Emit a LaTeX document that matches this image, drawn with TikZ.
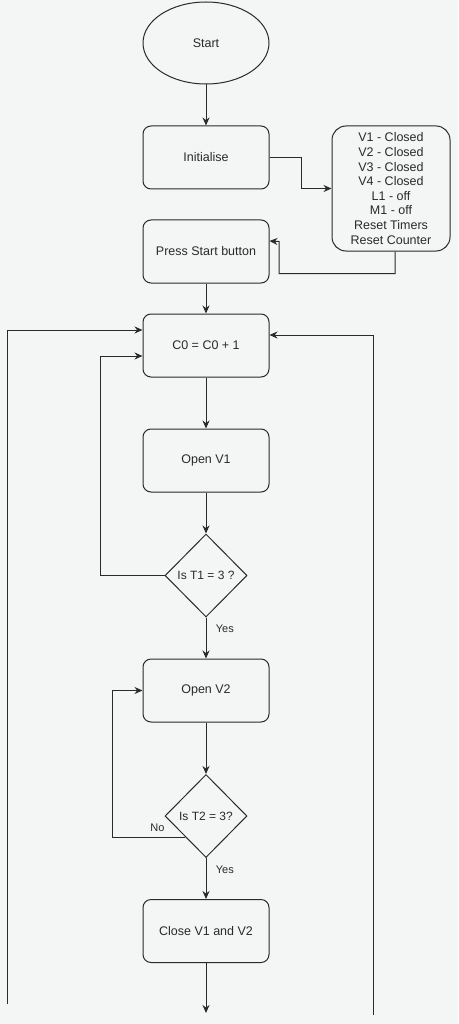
\documentclass[tikz,border=0pt]{standalone}
\usepackage{fontspec}
\setmainfont{Liberation Sans}
\usetikzlibrary{shapes.geometric,arrows.meta,calc}
\definecolor{bg}{HTML}{F4F5F5}
\definecolor{lc}{HTML}{2A2A2A}
\begin{document}
\begin{tikzpicture}[x=1pt,y=-1pt, font=\fontsize{12.5}{14.6}\selectfont,
  box/.style={draw=lc, line width=1pt, rounded corners=8pt, minimum width=126pt, minimum height=63pt, align=center, fill=bg, text=lc},
  dec/.style={draw=lc, line width=1pt, diamond, minimum width=82pt, minimum height=83pt, inner sep=0pt, fill=bg, text=lc, font=\fontsize{12}{14}\selectfont},
  term/.style={draw=lc, line width=1pt, ellipse, minimum width=126pt, minimum height=82pt, fill=bg, text=lc},
  arr/.style={draw=lc, line width=1pt, -{Stealth[length=8pt,width=7pt]}},
  lbl/.style={font=\fontsize{11}{13}\selectfont, text=lc}]
\fill[bg] (0,0) rectangle (458,1024);
\useasboundingbox (0,0) rectangle (458,1024);

\node[term] (start) at (206,43) {Start};
\node[box] (init) at (206,157.5) {Initialise};
\node[box, minimum width=118pt, minimum height=125pt, rounded corners=14pt] (info) at (391,188.5)
  {V1 - Closed\\V2 - Closed\\V3 - Closed\\V4 - Closed\\L1 - off\\M1 - off\\Reset Timers\\Reset Counter};
\node[box] (press) at (206,251.5) {Press Start button};
\node[box] (c0) at (206,345.5) {C0 = C0 + 1};
\node[box] (v1) at (206,460.5) {Open V1};
\node[dec] (d1) at (206,575.5) {Is T1 = 3 ?};
\node[box] (v2) at (206,690.5) {Open V2};
\node[dec] (d2) at (206,816) {Is T2 = 3?};
\node[box] (close) at (206,931) {Close V1 and V2};

\coordinate (nostart) at ($(d2.west)!0.5!(d2.south)$);
\coordinate (endpt) at (206,1013);
\coordinate (lbot) at (7,1004);
\coordinate (rbot) at (373,1015);

\draw[arr] (start) -- (init);
\draw[arr] (init.east) -- ++(32,0) |- (info.west);
\draw[arr] ([xshift=4pt]info.south) -- ++(0,22) -| ++(-116,-32) -- ([yshift=10.5pt]press.east);
\draw[arr] (press) -- (c0);
\draw[arr] (c0) -- (v1);
\draw[arr] (v1) -- (d1);
\draw[arr] (d1.west) -- ++(-64,0) |- ([yshift=-10.5pt]c0.west);
\draw[arr] (d1) -- node[lbl, pos=0.28, right=6pt] {Yes} (v2);
\draw[arr] (v2) -- (d2);
\draw[arr] (nostart) -- ++(-73,0) |- (v2.west);
\node[lbl] (no) at (157.5,828) {No};
\draw[arr] (d2) -- node[lbl, pos=0.28, right=6pt] {Yes} (close);
\draw[arr] (close) -- (endpt);
\draw[arr] (lbot) |- ([yshift=15.5pt]c0.west);
\draw[arr] (rbot) |- ([yshift=10.5pt]c0.east);
\end{tikzpicture}
\end{document}
